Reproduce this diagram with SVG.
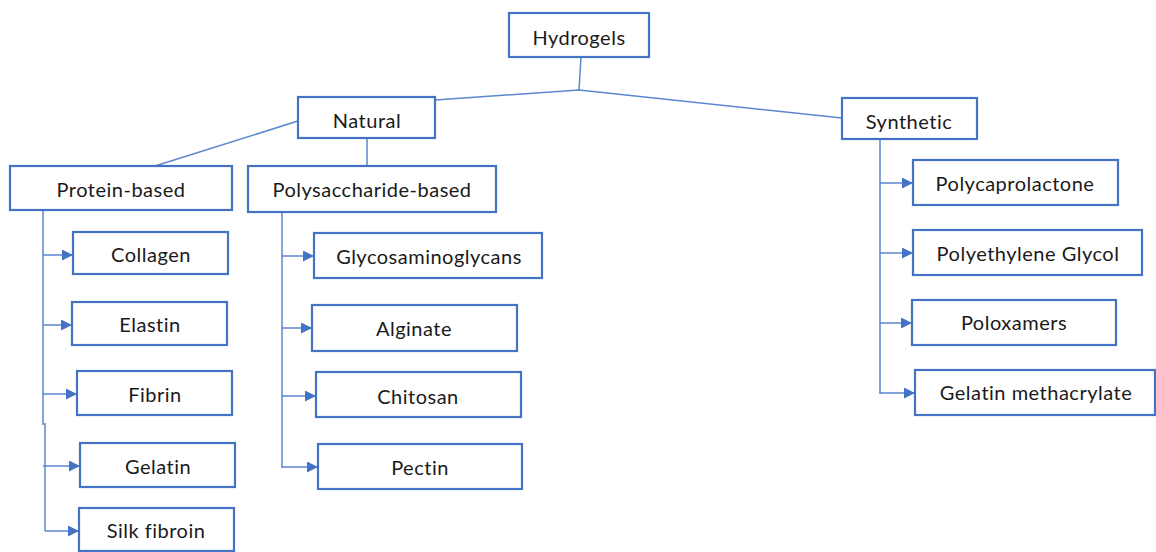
<svg xmlns="http://www.w3.org/2000/svg" width="1156" height="552" viewBox="0 0 1156 552">
<defs>
<marker id="arr" viewBox="0 0 10 10" refX="10" refY="5" markerWidth="11" markerHeight="11" markerUnits="userSpaceOnUse" orient="auto">
<path d="M0,0 L10,5 L0,10 Z" fill="#4472C4"/>
</marker>
</defs>
<style>
.box{fill:#fff;stroke:#4472C4;stroke-width:2.2}
.t{font-family:Lato,"Liberation Sans",sans-serif;font-size:20px;letter-spacing:0.5px;font-variant-ligatures:none;fill:#1a1a1a;text-anchor:middle;dominant-baseline:central}
.ln{fill:none;stroke:#5b86d0;stroke-width:1.5}
.ar{fill:none;stroke:#5b86d0;stroke-width:1.5;marker-end:url(#arr)}
</style>
<rect width="1156" height="552" fill="#fff"/>
<g id="connectors">
<polyline class="ln" points="581,57 579,90"/>
<polyline class="ln" points="435,100 579,90 842,118"/>
<line class="ln" x1="298" y1="121" x2="155" y2="166"/>
<line class="ln" x1="367" y1="138" x2="367" y2="166"/>
<line class="ln" x1="43" y1="210" x2="43" y2="425"/>
<line class="ln" x1="45" y1="423" x2="45" y2="531"/>
<line class="ar" x1="43" y1="255" x2="73" y2="255"/>
<line class="ar" x1="43" y1="325" x2="72" y2="325"/>
<line class="ar" x1="43" y1="394" x2="77" y2="394"/>
<line class="ar" x1="43" y1="466" x2="80" y2="466"/>
<line class="ar" x1="45" y1="531" x2="79" y2="531"/>
<line class="ln" x1="282" y1="212" x2="282" y2="468"/>
<line class="ar" x1="282" y1="256" x2="314" y2="256"/>
<line class="ar" x1="282" y1="328" x2="312" y2="328"/>
<line class="ar" x1="282" y1="396" x2="316" y2="396"/>
<line class="ar" x1="282" y1="467" x2="318" y2="467"/>
<line class="ln" x1="880" y1="139" x2="880" y2="394"/>
<line class="ar" x1="880" y1="183" x2="913" y2="183"/>
<line class="ar" x1="880" y1="253" x2="913" y2="253"/>
<line class="ar" x1="880" y1="323" x2="912" y2="323"/>
<line class="ar" x1="880" y1="393" x2="915" y2="393"/>
</g>
<g id="hydrogels"><rect class="box" x="509" y="13" width="140" height="44"/><text class="t" x="579" y="37">Hydrogels</text></g>
<g id="natural"><rect class="box" x="298" y="97" width="137" height="41"/><text class="t" x="367" y="120">Natural</text></g>
<g id="synthetic"><rect class="box" x="842" y="98" width="135" height="41"/><text class="t" x="909" y="121">Synthetic</text></g>
<g id="protein"><rect class="box" x="10" y="166" width="222" height="44"/><text class="t" x="121" y="189">Protein-based</text></g>
<g id="polysaccharide"><rect class="box" x="248" y="166" width="248" height="46"/><text class="t" x="372" y="189">Polysaccharide-based</text></g>
<g id="collagen"><rect class="box" x="73" y="232" width="155" height="42"/><text class="t" x="151" y="254">Collagen</text></g>
<g id="elastin"><rect class="box" x="72" y="302" width="155" height="43"/><text class="t" x="150" y="324">Elastin</text></g>
<g id="fibrin"><rect class="box" x="77" y="371" width="155" height="44"/><text class="t" x="155" y="394">Fibrin</text></g>
<g id="gelatin"><rect class="box" x="80" y="443" width="155" height="44"/><text class="t" x="158" y="466">Gelatin</text></g>
<g id="silk"><rect class="box" x="79" y="508" width="155" height="43"/><text class="t" x="156" y="530">Silk fibroin</text></g>
<g id="gag"><rect class="box" x="314" y="233" width="228" height="45"/><text class="t" x="429" y="256">Glycosaminoglycans</text></g>
<g id="alginate"><rect class="box" x="312" y="305" width="205" height="46"/><text class="t" x="414" y="328">Alginate</text></g>
<g id="chitosan"><rect class="box" x="316" y="372" width="205" height="45"/><text class="t" x="418" y="396">Chitosan</text></g>
<g id="pectin"><rect class="box" x="318" y="444" width="204" height="45"/><text class="t" x="420" y="467">Pectin</text></g>
<g id="pcl"><rect class="box" x="913" y="160" width="205" height="45"/><text class="t" x="1015" y="183">Polycaprolactone</text></g>
<g id="peg"><rect class="box" x="913" y="230" width="229" height="45"/><text class="t" x="1028" y="253">Polyethylene  Glycol</text></g>
<g id="poloxamers"><rect class="box" x="912" y="300" width="204" height="45"/><text class="t" x="1014" y="322">Poloxamers</text></g>
<g id="gelma"><rect class="box" x="915" y="370" width="240" height="45"/><text class="t" x="1036" y="392">Gelatin methacrylate</text></g>
</svg>
